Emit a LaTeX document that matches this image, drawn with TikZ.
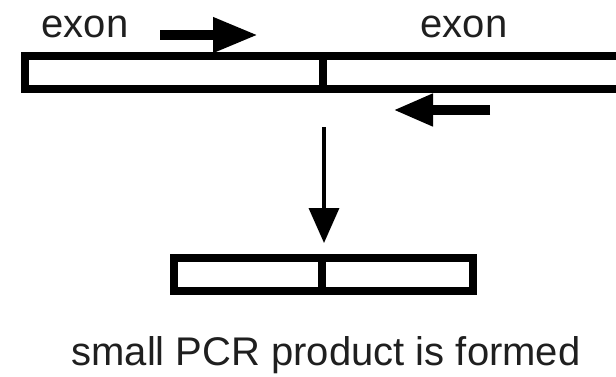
\documentclass[tikz,border=0pt]{standalone}
\usepackage{fontspec}
\setmainfont{Liberation Sans}
\usetikzlibrary{arrows.meta}
\begin{document}
\begin{tikzpicture}[x=1pt,y=-1pt,
  strand/.style={draw=black,line width=7.5pt,fill=white},
  label/.style={font=\fontsize{40}{48}\selectfont,text=black!88,anchor=base,inner sep=0pt},
  primer/.style={line width=10pt,-{Triangle[length=45pt,width=33pt]}},
  primerr/.style={line width=10pt,-{Triangle[length=40pt,width=30pt]}},
  flow/.style={line width=3.5pt,-{Triangle[length=35pt,width=30pt]}}]
  \useasboundingbox (0,0) rectangle (616,376);

  % genomic strand: two exons joined at a junction
  \draw[strand] (25,56) rectangle (640,89);
  \draw[line width=7.5pt] (323,56) -- (323,89);

  \node[label] (exonL) at (85,37) {exon};
  \node[label] (exonR) at (464,37) {exon};

  % primers
  \coordinate (fwdA) at (160,35);
  \coordinate (fwdB) at (258,35);
  \draw[primer] (fwdA) -- (fwdB);
  \coordinate (revA) at (490,110);
  \coordinate (revB) at (393,110);
  \draw[primerr] (revA) -- (revB);

  % amplification step
  \coordinate (flowA) at (324,127);
  \coordinate (flowB) at (324,243);
  \draw[flow] (flowA) -- (flowB);

  % PCR product
  \draw[strand] (174,258) rectangle (473,291);
  \draw[line width=7.5pt] (322,258) -- (322,291);

  \node[label] (caption) at (326,365) {small PCR product is formed};
\end{tikzpicture}
\end{document}
